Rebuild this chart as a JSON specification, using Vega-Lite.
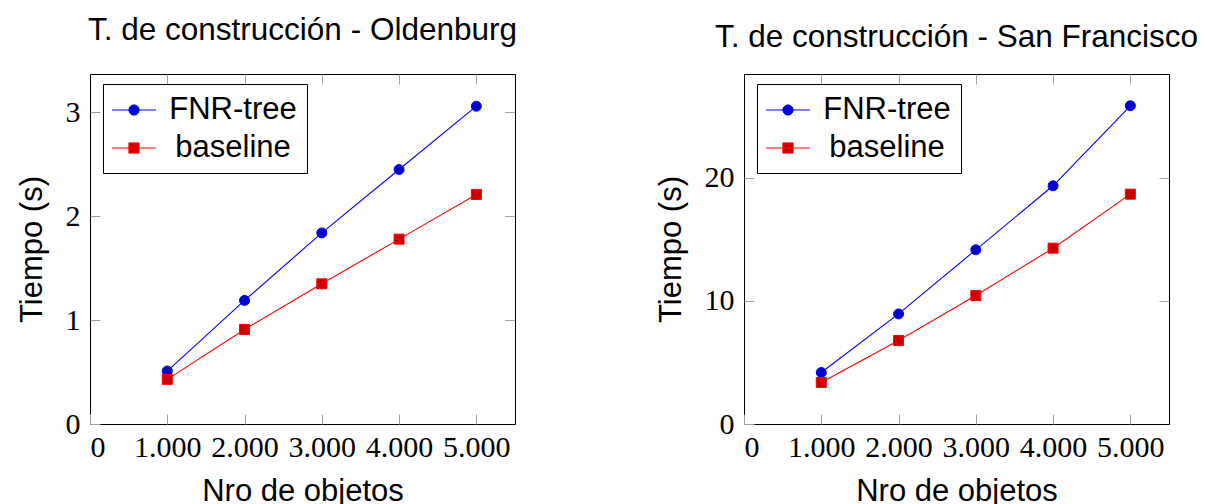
{
  "$schema": "https://vega.github.io/schema/vega-lite/v6.json",
  "background": "white",
  "padding": {"left": 15, "top": 14, "right": 0, "bottom": 0},
  "data": {
    "values": [
      {"city": "Oldenburg", "serie": "FNR-tree", "n": 1000, "t": 0.51},
      {"city": "Oldenburg", "serie": "FNR-tree", "n": 2000, "t": 1.19},
      {"city": "Oldenburg", "serie": "FNR-tree", "n": 3000, "t": 1.84},
      {"city": "Oldenburg", "serie": "FNR-tree", "n": 4000, "t": 2.45},
      {"city": "Oldenburg", "serie": "FNR-tree", "n": 5000, "t": 3.06},
      {"city": "Oldenburg", "serie": "baseline", "n": 1000, "t": 0.43},
      {"city": "Oldenburg", "serie": "baseline", "n": 2000, "t": 0.91},
      {"city": "Oldenburg", "serie": "baseline", "n": 3000, "t": 1.35},
      {"city": "Oldenburg", "serie": "baseline", "n": 4000, "t": 1.78},
      {"city": "Oldenburg", "serie": "baseline", "n": 5000, "t": 2.21},
      {"city": "San Francisco", "serie": "FNR-tree", "n": 1000, "t": 4.18},
      {"city": "San Francisco", "serie": "FNR-tree", "n": 2000, "t": 8.94},
      {"city": "San Francisco", "serie": "FNR-tree", "n": 3000, "t": 14.15},
      {"city": "San Francisco", "serie": "FNR-tree", "n": 4000, "t": 19.35},
      {"city": "San Francisco", "serie": "FNR-tree", "n": 5000, "t": 25.85},
      {"city": "San Francisco", "serie": "baseline", "n": 1000, "t": 3.37},
      {"city": "San Francisco", "serie": "baseline", "n": 2000, "t": 6.78},
      {"city": "San Francisco", "serie": "baseline", "n": 3000, "t": 10.44},
      {"city": "San Francisco", "serie": "baseline", "n": 4000, "t": 14.28},
      {"city": "San Francisco", "serie": "baseline", "n": 5000, "t": 18.67}
    ]
  },
  "spacing": 229,
  "bounds": "flush",
  "hconcat": [
    {
      "width": 425,
      "height": 350,
      "title": {"text": "T. de construcción - Oldenburg", "frame": "group", "baseline": "alphabetic", "offset": 2},
      "transform": [{"filter": "datum.city === 'Oldenburg'"}],
      "resolve": {"scale": {"shape": "independent", "fill": "independent", "stroke": "independent"}, "axis": {"x": "independent", "y": "independent"}},
      "layer": [
        {
          "mark": {"type": "line", "strokeWidth": 1.1},
          "encoding": {
            "x": {"field": "n", "type": "quantitative", "scale": {"domain": [0, 5500], "nice": false}, "axis": {"values": [0, 1000, 2000, 3000, 4000, 5000], "labelExpr": "replace(format(datum.value, ','), ',', '.')", "title": "Nro de objetos"}},
            "y": {"field": "t", "type": "quantitative", "scale": {"domain": [0, 3.37], "nice": false}, "axis": {"values": [0, 1, 2, 3], "title": "Tiempo (s)"}},
            "color": {"field": "serie", "type": "nominal", "scale": {"domain": ["FNR-tree", "baseline"], "range": ["#0000ff", "#ff0000"]}, "legend": null}
          }
        },
        {
          "mark": {"type": "point", "filled": true, "size": 100, "strokeWidth": 1, "opacity": 1},
          "encoding": {
            "x": {"field": "n", "type": "quantitative", "axis": null},
            "y": {"field": "t", "type": "quantitative", "axis": null},
            "fill": {"field": "serie", "type": "nominal", "scale": {"domain": ["FNR-tree", "baseline"], "range": ["#0000cc", "#cc0000"]}, "legend": null},
            "stroke": {"field": "serie", "type": "nominal", "scale": {"domain": ["FNR-tree", "baseline"], "range": ["#0000ff", "#ff0000"]}, "legend": null},
            "shape": {"field": "serie", "type": "nominal", "scale": {"domain": ["FNR-tree", "baseline"], "range": ["circle", "square"]}, "legend": null}
          }
        },
        {
          "mark": {"type": "point", "filled": true, "opacity": 0},
          "encoding": {
            "x": {"field": "n", "type": "quantitative", "axis": {"orient": "top", "values": [1000, 2000, 3000, 4000, 5000], "labels": false, "title": null}},
            "y": {"field": "t", "type": "quantitative", "axis": {"orient": "right", "values": [1, 2, 3], "labels": false, "title": null}},
            "shape": {
              "field": "serie", "type": "nominal",
              "scale": {"domain": ["FNR-tree", "baseline"], "range": ["M-1.42,0H1.42M0.33,0A0.33,0.33,0,1,1,-0.33,0A0.33,0.33,0,1,1,0.33,0Z", "M-1.42,0H1.42M-0.33,-0.33H0.33V0.33H-0.33Z"]},
              "legend": {"orient": "none", "legendX": 13, "legendY": 10}
            },
            "fill": {"field": "serie", "type": "nominal", "scale": {"domain": ["FNR-tree", "baseline"], "range": ["#0000cc", "#cc0000"]}, "legend": {"orient": "none", "legendX": 13, "legendY": 10}},
            "stroke": {"field": "serie", "type": "nominal", "scale": {"domain": ["FNR-tree", "baseline"], "range": ["#0000ff", "#ff0000"]}, "legend": {"orient": "none", "legendX": 13, "legendY": 10}}
          }
        }
      ]
    },
    {
      "width": 425,
      "height": 350,
      "title": {"text": "T. de construcción - San Francisco", "frame": "group", "baseline": "alphabetic", "offset": -5},
      "transform": [{"filter": "datum.city === 'San Francisco'"}],
      "resolve": {"scale": {"shape": "independent", "fill": "independent", "stroke": "independent"}, "axis": {"x": "independent", "y": "independent"}},
      "layer": [
        {
          "mark": {"type": "line", "strokeWidth": 1.1},
          "encoding": {
            "x": {"field": "n", "type": "quantitative", "scale": {"domain": [0, 5500], "nice": false}, "axis": {"values": [0, 1000, 2000, 3000, 4000, 5000], "labelExpr": "replace(format(datum.value, ','), ',', '.')", "title": "Nro de objetos"}},
            "y": {"field": "t", "type": "quantitative", "scale": {"domain": [0, 28.43], "nice": false}, "axis": {"values": [0, 10, 20], "title": "Tiempo (s)"}},
            "color": {"field": "serie", "type": "nominal", "scale": {"domain": ["FNR-tree", "baseline"], "range": ["#0000ff", "#ff0000"]}, "legend": null}
          }
        },
        {
          "mark": {"type": "point", "filled": true, "size": 100, "strokeWidth": 1, "opacity": 1},
          "encoding": {
            "x": {"field": "n", "type": "quantitative", "axis": null},
            "y": {"field": "t", "type": "quantitative", "axis": null},
            "fill": {"field": "serie", "type": "nominal", "scale": {"domain": ["FNR-tree", "baseline"], "range": ["#0000cc", "#cc0000"]}, "legend": null},
            "stroke": {"field": "serie", "type": "nominal", "scale": {"domain": ["FNR-tree", "baseline"], "range": ["#0000ff", "#ff0000"]}, "legend": null},
            "shape": {"field": "serie", "type": "nominal", "scale": {"domain": ["FNR-tree", "baseline"], "range": ["circle", "square"]}, "legend": null}
          }
        },
        {
          "mark": {"type": "point", "filled": true, "opacity": 0},
          "encoding": {
            "x": {"field": "n", "type": "quantitative", "axis": {"orient": "top", "values": [1000, 2000, 3000, 4000, 5000], "labels": false, "title": null}},
            "y": {"field": "t", "type": "quantitative", "axis": {"orient": "right", "values": [10, 20], "labels": false, "title": null}},
            "shape": {
              "field": "serie", "type": "nominal",
              "scale": {"domain": ["FNR-tree", "baseline"], "range": ["M-1.42,0H1.42M0.33,0A0.33,0.33,0,1,1,-0.33,0A0.33,0.33,0,1,1,0.33,0Z", "M-1.42,0H1.42M-0.33,-0.33H0.33V0.33H-0.33Z"]},
              "legend": {"orient": "none", "legendX": 13, "legendY": 10}
            },
            "fill": {"field": "serie", "type": "nominal", "scale": {"domain": ["FNR-tree", "baseline"], "range": ["#0000cc", "#cc0000"]}, "legend": {"orient": "none", "legendX": 13, "legendY": 10}},
            "stroke": {"field": "serie", "type": "nominal", "scale": {"domain": ["FNR-tree", "baseline"], "range": ["#0000ff", "#ff0000"]}, "legend": {"orient": "none", "legendX": 13, "legendY": 10}}
          }
        }
      ]
    }
  ],
  "resolve": {"scale": {"color": "independent", "fill": "independent", "stroke": "independent", "shape": "independent"}, "legend": {"shape": "independent", "fill": "independent", "stroke": "independent"}},
  "config": {
    "view": {"stroke": "#000000", "strokeWidth": 1},
    "axis": {
      "labelFont": "Liberation Serif",
      "labelFontSize": 30,
      "labelColor": "#000000",
      "labelPadding": 18,
      "titleFont": "Liberation Sans",
      "titleFontSize": 31,
      "titleFontWeight": "normal",
      "titleColor": "#000000",
      "titlePadding": 14,
      "tickColor": "#a0a0a0",
      "tickSize": -10,
      "tickWidth": 1,
      "domain": false,
      "grid": false
    },
    "axisLeft": {"labelPadding": 20, "titlePadding": 17},
    "title": {"font": "Liberation Sans", "fontSize": 31.5, "fontWeight": "normal", "color": "#000000"},
    "legend": {
      "title": null,
      "strokeColor": "#000000",
      "strokeWidth": 1,
      "fillColor": "#ffffff",
      "padding": 10,
      "rowPadding": 7,
      "labelFont": "Liberation Sans",
      "labelFontSize": 31,
      "labelColor": "#000000",
      "labelAlign": "center",
      "labelBaseline": "middle",
      "labelOffset": 83,
      "symbolOffset": 5,
      "symbolSize": 961,
      "symbolStrokeWidth": 1,
      "symbolOpacity": 1
    }
  }
}
